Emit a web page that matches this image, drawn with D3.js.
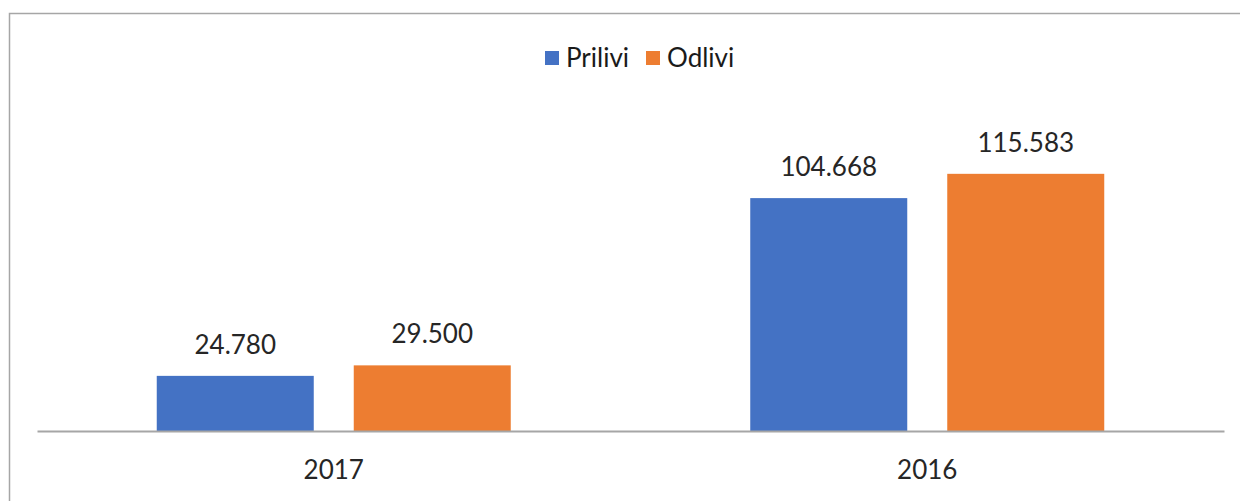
<!DOCTYPE html>
<html>
<head>
<meta charset="utf-8">
<script src="https://cdnjs.cloudflare.com/ajax/libs/d3/7.8.5/d3.min.js"></script>
<style>
  body { margin: 0; background: #fff; }
  text { font-family: Lato, "DejaVu Sans Condensed", sans-serif; }
</style>
</head>
<body>
<div id="chart"></div>
<script>
// data
var categories = ["2017", "2016"];
var seriesNames = ["Prilivi", "Odlivi"];
var prilivi = [24.780, 104.668];
var odlivi = [29.500, 115.583];
var colors = ["#4472C4", "#ED7D31"];

var W = 1240, H = 501;
var fmt = function(v){ return d3.format(",.3f")(v).replace(",", "."); };

var svg = d3.select("#chart")
    .append("svg")
    .attr("width", W)
    .attr("height", H);

// chart frame (right and bottom edge run off the picture)
svg.append("rect")
    .attr("x", 9.5)
    .attr("y", 13.5)
    .attr("width", 1300)
    .attr("height", 600)
    .attr("fill", "none")
    .attr("stroke", "#a6a6a6")
    .attr("stroke-width", 1.5);

var data = categories.map(function(c, i){
    return {cat: c, values: [
        {name: seriesNames[0], value: prilivi[i]},
        {name: seriesNames[1], value: odlivi[i]}
    ]};
});

var x0 = d3.scaleBand()
    .domain(categories)
    .range([37, 1224]);
var groupW = 354;
var x1 = d3.scaleBand()
    .domain(seriesNames)
    .range([0, groupW])
    .paddingInner(40/197);
var yScale = d3.scaleLinear()
    .domain([0, 140])
    .range([431, 431 - 2.225*140]);
var color = d3.scaleOrdinal().domain(seriesNames).range(colors);

var groups = svg.selectAll("g.grp")
    .data(data)
    .enter()
    .append("g")
    .attr("class", "grp")
    .attr("transform", function(d){
        return "translate(" + (x0(d.cat) + (x0.bandwidth() - groupW)/2) + ",0)";
    });

groups.selectAll("rect")
    .data(function(d){ return d.values; })
    .enter()
    .append("rect")
    .attr("x", function(d){ return x1(d.name); })
    .attr("width", x1.bandwidth())
    .attr("y", function(d){ return yScale(d.value); })
    .attr("height", function(d){ return yScale(0) - yScale(d.value); })
    .attr("fill", function(d){ return color(d.name); });

// value labels
groups.selectAll("text.lbl")
    .data(function(d){ return d.values; })
    .enter()
    .append("text")
    .attr("class", "lbl")
    .attr("x", function(d){ return x1(d.name) + x1.bandwidth()/2; })
    .attr("y", function(d){ return yScale(d.value) - 22; })
    .attr("text-anchor", "middle")
    .style("font-size", "26px")
    .style("fill", "#262626")
    .text(function(d){ return fmt(d.value); });

// x axis
var xaxis = d3.axisBottom(x0).tickSize(0).tickPadding(30);
var gx = svg.append("g")
    .attr("transform", "translate(0," + yScale(0) + ")")
    .call(xaxis);
gx.select(".domain").attr("stroke", "#a6a6a6").attr("stroke-width", 2);
gx.selectAll("text")
    .style("font-size", "26px")
    .style("font-family", "Lato, sans-serif")
    .style("fill", "#262626");

// legend
var legX = [545, 646];
var leg = svg.selectAll("g.leg")
    .data(seriesNames)
    .enter()
    .append("g")
    .attr("class", "leg")
    .attr("transform", function(d, i){ return "translate(" + legX[i] + ",51)"; });
leg.append("rect")
    .attr("width", 14)
    .attr("height", 14)
    .attr("fill", function(d){ return color(d); });
leg.append("text")
    .attr("x", 21)
    .attr("y", 15.5)
    .style("font-size", "26px")
    .style("fill", "#1a1a1a")
    .text(function(d){ return d; });
</script>
</body>
</html>
